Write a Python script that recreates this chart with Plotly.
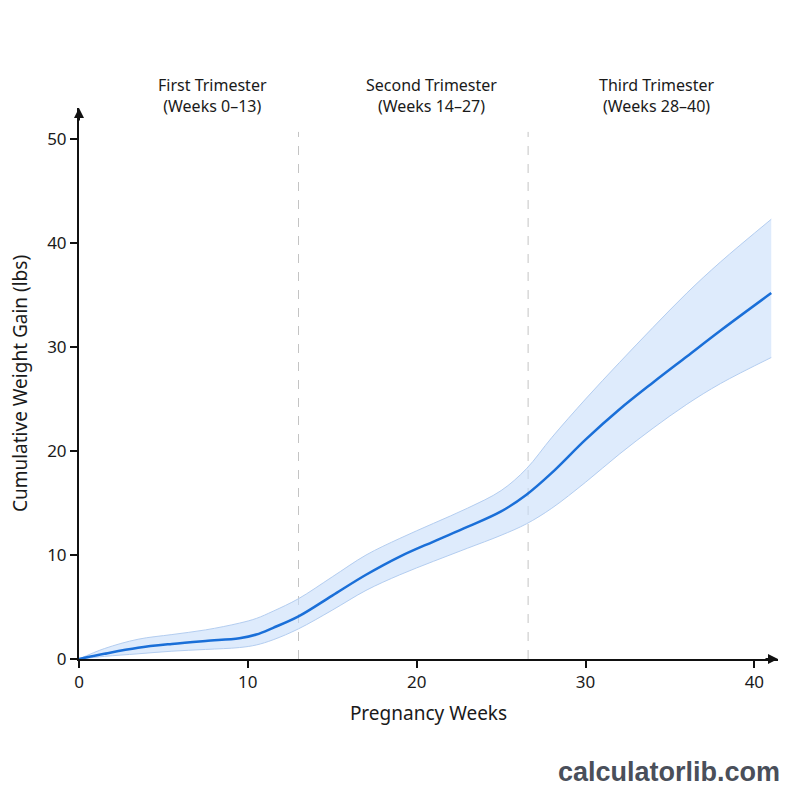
import plotly.graph_objects as go

weeks = [0, 1.5, 3.5, 5.5, 7.5, 9.5, 10.5, 11.5, 13, 15, 17, 19, 21, 23, 25, 26.5, 28, 30, 32, 34, 36, 38, 41]
mean_gain = [0, 0.5, 1.08, 1.45, 1.74, 2.0, 2.35, 3.0, 4.1, 6.1, 8.1, 9.85, 11.3, 12.7, 14.2, 15.8, 17.9, 21.1, 24.0, 26.6, 29.1, 31.6, 35.2]
upper_gain = [0, 1.0, 1.9, 2.35, 2.8, 3.45, 3.9, 4.6, 5.8, 7.9, 10.0, 11.6, 13.05, 14.5, 16.2, 18.3, 21.3, 25.0, 28.5, 31.9, 35.2, 38.2, 42.3]
lower_gain = [0, 0.25, 0.5, 0.75, 0.92, 1.1, 1.35, 1.85, 2.9, 4.7, 6.6, 8.1, 9.4, 10.65, 11.9, 13.0, 14.5, 17.0, 19.7, 22.2, 24.5, 26.5, 29.0]

trimester_bounds = [13, 26.6]
trimester_labels = ["First Trimester<br>(Weeks 0–13)", "Second Trimester<br>(Weeks 14–27)", "Third Trimester<br>(Weeks 28–40)"]
trimester_label_x = [7.9, 20.9, 34.2]
x_ticks = [0, 10, 20, 30, 40]
y_ticks = [0, 10, 20, 30, 40, 50]

FONT = "Noto Sans"
XMAX, YMAX = 41.4, 53

fig = go.Figure()
fig.add_trace(go.Scatter(x=weeks, y=lower_gain, mode="lines", line=dict(color="#b3cdf0", width=1, shape="spline"),
                         showlegend=False, hoverinfo="skip"))
fig.add_trace(go.Scatter(x=weeks, y=upper_gain, mode="lines", line=dict(color="#b3cdf0", width=1, shape="spline"),
                         fill="tonexty", fillcolor="rgba(200,222,250,0.6)", showlegend=False, hoverinfo="skip"))
fig.add_trace(go.Scatter(x=weeks, y=mean_gain, mode="lines", line=dict(color="#1a6fd8", width=2.5, shape="spline"),
                         showlegend=False))

for b in trimester_bounds:
    fig.add_shape(type="line", x0=b, x1=b, y0=0, y1=50.7, xref="x", yref="y",
                  line=dict(color="#c4c4c4", width=1, dash="dash"), layer="below")

for lbl, lx in zip(trimester_labels, trimester_label_x):
    fig.add_annotation(x=lx, y=1.022, xref="x", yref="paper", text=lbl, showarrow=False,
                       font=dict(family=FONT, size=16, color="#1a1a1a"), align="center", yanchor="middle")

# axis arrowheads
fig.add_annotation(x=XMAX, y=0, ax=-14, ay=0, xref="x", yref="y", text="", showarrow=True,
                   arrowhead=2, arrowsize=1, arrowwidth=2, arrowcolor="#111111")
fig.add_annotation(x=0, y=YMAX, ax=0, ay=14, xref="x", yref="y", text="", showarrow=True,
                   arrowhead=2, arrowsize=1, arrowwidth=2, arrowcolor="#111111")

fig.add_annotation(x=1.006, y=-0.205, xref="paper", yref="paper", text="<b>calculatorlib.com</b>", showarrow=False,
                   xanchor="right", yanchor="middle", font=dict(family="Liberation Sans", size=27, color="#4a4f5a"))

fig.update_xaxes(range=[0, XMAX], tickvals=x_ticks, showline=True, linecolor="#111111", linewidth=2,
                 ticks="outside", ticklen=7, tickwidth=1.5, tickcolor="#111111", showgrid=False, zeroline=False,
                 tickfont=dict(family=FONT, size=17, color="#1a1a1a"),
                 title=dict(text="Pregnancy Weeks", font=dict(family=FONT, size=19, color="#1a1a1a"), standoff=14))
fig.update_yaxes(range=[0, YMAX], tickvals=y_ticks, showline=True, linecolor="#111111", linewidth=2,
                 ticks="outside", ticklen=7, tickwidth=1.5, tickcolor="#111111", showgrid=False, zeroline=False,
                 tickfont=dict(family=FONT, size=17, color="#1a1a1a"),
                 title=dict(text="Cumulative Weight Gain (lbs)", font=dict(family=FONT, size=19, color="#1a1a1a"), standoff=14))

fig.update_layout(width=800, height=800, margin=dict(l=79, r=22, t=108, b=141),
                  plot_bgcolor="white", paper_bgcolor="white")

fig.write_html("out.html")
